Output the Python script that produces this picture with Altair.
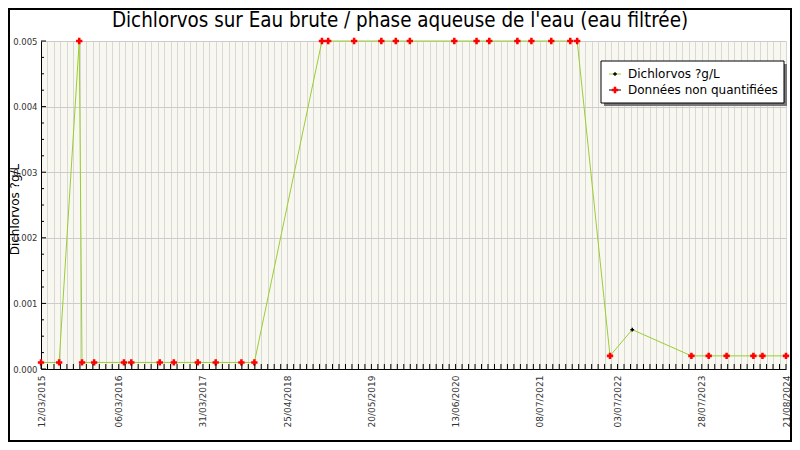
import altair as alt
import pandas as pd

TITLE = "Dichlorvos sur Eau brute / phase aqueuse de l'eau (eau filtrée)"
Y_TITLE = "Dichlorvos ?g/L"
LEGEND_LABELS = ["Dichlorvos ?g/L", "Données non quantifiées"]

dates = [
    "2015-03-12", "2015-06-04", "2015-09-05", "2015-09-18", "2015-11-13",
    "2016-03-30", "2016-05-03", "2016-09-12", "2016-11-16", "2017-03-07",
    "2017-05-29", "2017-09-25", "2017-11-24", "2018-10-03", "2018-11-01",
    "2019-03-01", "2019-07-05", "2019-09-10", "2019-11-14", "2020-06-07",
    "2020-09-18", "2020-11-16", "2021-03-26", "2021-05-30", "2021-08-30",
    "2021-11-26", "2021-12-28", "2022-05-29", "2022-09-09", "2023-06-10",
    "2023-08-29", "2023-11-20", "2024-03-23", "2024-05-04", "2024-08-21",
]
values = [
    0.0001, 0.0001, 0.005, 0.0001, 0.0001,
    0.0001, 0.0001, 0.0001, 0.0001, 0.0001,
    0.0001, 0.0001, 0.0001, 0.005, 0.005,
    0.005, 0.005, 0.005, 0.005, 0.005,
    0.005, 0.005, 0.005, 0.005, 0.005,
    0.005, 0.005, 0.0002, 0.0006, 0.0002,
    0.0002, 0.0002, 0.0002, 0.0002, 0.0002,
]
status = ["nq"] * 28 + ["q"] + ["nq"] * 6

label_dates = ["12/03/2015", "06/03/2016", "31/03/2017", "25/04/2018", "20/05/2019",
               "13/06/2020", "08/07/2021", "03/07/2022", "28/07/2023", "21/08/2024"]
y_major = [0.0, 0.001, 0.002, 0.003, 0.004, 0.005]
y_minor = [0.00025, 0.0005, 0.00075, 0.00125, 0.0015, 0.00175, 0.00225, 0.0025, 0.00275,
           0.00325, 0.0035, 0.00375, 0.00425, 0.0045, 0.00475]
x_start, x_end = "2015-03-12", "2024-08-21"

W, H = 745, 328
PL, PT, PR, PB = 33, 33, 784 - 33 - 745, 73
FONT = "DejaVu Sans"

tick_dates = pd.date_range(x_start, x_end, freq="30D")
df = pd.DataFrame({"date": pd.to_datetime(dates), "value": values, "status": status})
ticks_df = pd.DataFrame({"date": tick_dates})
ymaj_df = pd.DataFrame({"value": y_major})
ymin_df = pd.DataFrame({"value": y_minor})

def dt(s):
    d = pd.Timestamp(s)
    return alt.DateTime(year=d.year, month=d.month, date=d.day)

xscale = alt.Scale(domain=[dt(x_start), dt(x_end)], nice=False)
yscale = alt.Scale(domain=[0, 0.005], nice=False)

lab_list = ",".join("'%s'" % s for s in label_dates)
xaxis = alt.Axis(
    values=[dt(d) for d in tick_dates],
    labelExpr="indexof([%s], timeFormat(datum.value, '%%d/%%m/%%Y')) >= 0 ? timeFormat(datum.value, '%%d/%%m/%%Y') : ''" % lab_list,
    labelAngle=270, labelAlign="right", labelBaseline="middle", labelPadding=6,
    labelOverlap=False, labelFlush=False, labelFontSize=9, labelFont=FONT, labelColor="#333",
    ticks=False, grid=True, gridColor="#d8d8d8", gridWidth=1,
    domain=True, domainColor="black", domainWidth=1, title=None,
)
yaxis = alt.Axis(
    values=y_major, format=".3f", labelFontSize=8.5, labelFont=FONT, labelColor="#333",
    labelPadding=4, ticks=False, grid=True, gridColor="#cccccc", gridWidth=1,
    domain=True, domainColor="black", domainWidth=1,
    title=Y_TITLE, titleFont=FONT, titleFontSize=12, titleFontWeight="normal", titleColor="black",
    titleAngle=270, titleX=-27, titleY=168, titleAlign="center", titleBaseline="middle",
)

X = alt.X("date:T", scale=xscale, axis=xaxis)
Y = alt.Y("value:Q", scale=yscale, axis=yaxis)

line = alt.Chart(df).mark_line(color="#9ACD32", strokeWidth=1).encode(x=X, y=Y)
red_pts = alt.Chart(df).transform_filter("datum.status == 'nq'").mark_point(
    shape="cross", filled=True, color="red", size=40, opacity=1
).encode(x=X, y=Y)
blk_pts = alt.Chart(df).transform_filter("datum.status == 'q'").mark_point(
    shape="cross", filled=True, color="black", size=14, opacity=1
).encode(x=X, y=Y)

xticks = alt.Chart(ticks_df).mark_rule(color="black", strokeWidth=1).encode(
    x=X, y=alt.value(H - 5), y2=alt.value(H))
ymaj = alt.Chart(ymaj_df).mark_rule(color="black", strokeWidth=1).encode(
    y=Y, x=alt.value(0), x2=alt.value(5))
ymin = alt.Chart(ymin_df).mark_rule(color="black", strokeWidth=1).encode(
    y=Y, x=alt.value(0), x2=alt.value(3))

# title as a text mark (centered on the page)
title_df = pd.DataFrame({"t": [TITLE]})
title = alt.Chart(title_df).mark_text(
    align="center", baseline="alphabetic", font="DejaVu Sans Condensed", fontSize=20.4, color="black"
).encode(x=alt.value(400 - 8 - PL), y=alt.value(-14), text="t:N")

# legend (manual, with drop shadow)
leg_df = pd.DataFrame({"label": LEGEND_LABELS})
one = alt.Data(values=[{"a": 1}])
LX0, LY0, LX1, LY1 = 560, 20, 743, 62
shadow = alt.Chart(one).mark_rect(fill="#777777").encode(
    x=alt.value(LX0 + 3), x2=alt.value(LX1 + 3), y=alt.value(LY0 + 3), y2=alt.value(LY1 + 3))
box = alt.Chart(one).mark_rect(fill="white", stroke="black", strokeWidth=1).encode(
    x=alt.value(LX0), x2=alt.value(LX1), y=alt.value(LY0), y2=alt.value(LY1))
ent1_line = alt.Chart(one).mark_rule(color="#9ACD32", strokeWidth=1).encode(
    x=alt.value(568), x2=alt.value(580), y=alt.value(33))
ent1_sym = alt.Chart(one).mark_point(shape="cross", filled=True, color="black", size=14, opacity=1).encode(
    x=alt.value(574), y=alt.value(33))
ent2_line = alt.Chart(one).mark_rule(color="black", strokeWidth=1).encode(
    x=alt.value(568), x2=alt.value(580), y=alt.value(49))
ent2_sym = alt.Chart(one).mark_point(shape="cross", filled=True, color="red", size=40, opacity=1).encode(
    x=alt.value(574), y=alt.value(49))
ent1_txt = alt.Chart(leg_df).transform_filter("datum.label == '%s'" % LEGEND_LABELS[0]).mark_text(
    align="left", baseline="middle", font=FONT, fontSize=12, color="black").encode(
    x=alt.value(587), y=alt.value(33), text="label:N")
ent2_txt = alt.Chart(leg_df).transform_filter("datum.label != '%s'" % LEGEND_LABELS[0]).mark_text(
    align="left", baseline="middle", font=FONT, fontSize=12, color="black").encode(
    x=alt.value(587), y=alt.value(49), text="label:N")

frame = alt.Chart(one).mark_rect(fill="transparent", stroke="black", strokeWidth=2).encode(
    x=alt.value(-PL + 1), x2=alt.value(W + PR - 1), y=alt.value(-PT + 1), y2=alt.value(H + PB - 1))

chart = alt.layer(
    line, red_pts, blk_pts, xticks, ymaj, ymin, title,
    shadow, box, ent1_line, ent1_sym, ent2_line, ent2_sym, ent1_txt, ent2_txt, frame,
).properties(
    width=W, height=H, background="white",
    padding={"left": PL, "top": PT, "right": PR, "bottom": PB},
    autosize=alt.AutoSizeParams(type="none"),
).configure_view(fill="#F8F8F0", stroke="transparent")

chart.save("out.html", embed_options={"renderer": "svg", "actions": False})
